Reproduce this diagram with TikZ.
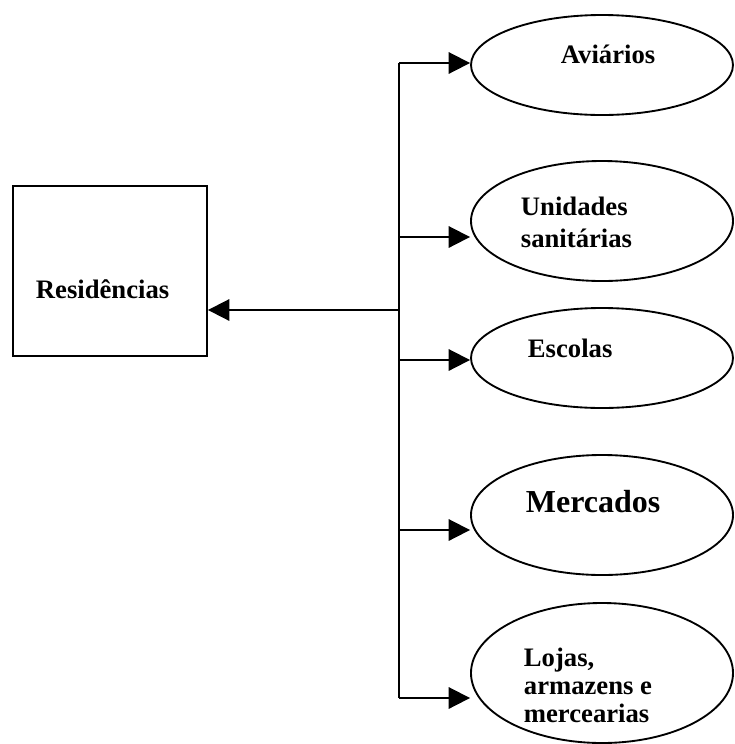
\documentclass[tikz,border=0pt]{standalone}
\usepackage{fontspec}
\setmainfont{Liberation Serif}
\usetikzlibrary{shapes.geometric,arrows.meta}
\begin{document}
\begin{tikzpicture}[x=0.75pt,y=-0.75pt,
  line width=1.4pt,
  oval/.style={draw,ellipse,inner sep=0pt,minimum width=196.5pt},
  boxn/.style={draw,rectangle,inner sep=0pt,minimum width=145.5pt,minimum height=127.5pt},
  lbl/.style={inner sep=0pt,font=\bfseries\fontsize{20}{24}\selectfont,align=left},
  arr/.style={-{Triangle[length=16pt,width=16pt]}}]
\useasboundingbox (0,0) rectangle (735,744);
% box
\node[boxn] (res) at (110,271) {};
\node[lbl,anchor=base west] (tres) at (35,298) {Residências};
% ellipses
\node[oval,minimum height=75pt] (av) at (602,65) {};
\node[oval,minimum height=90pt] (un) at (602,221) {};
\node[oval,minimum height=75pt] (es) at (602,358) {};
\node[oval,minimum height=90pt] (me) at (602,515) {};
\node[oval,minimum height=105pt] (lo) at (602,673) {};
% labels
\node[lbl,anchor=base west] (tav) at (560,63) {Aviários};
\node[lbl,anchor=west] (tun) at (520,222) {Unidades\\sanitárias};
\node[lbl,anchor=base west] (tes) at (527,357) {Escolas};
\node[lbl,anchor=base west,font=\bfseries\fontsize{24}{26}\selectfont] (tme) at (525,512) {Mercados};
\node[lbl,anchor=west,font=\bfseries\fontsize{20}{21}\selectfont] (tlo) at (523,685) {Lojas,\\armazens e\\mercearias};
% bus
\coordinate (b1) at (399,63);
\coordinate (b2) at (399,237);
\coordinate (b3) at (399,360);
\coordinate (b4) at (399,530);
\coordinate (b5) at (399,698);
\coordinate (bm) at (399,310);
\draw (b1) -- (b5);
\draw[arr] (b1) -- (av.west |- b1);
\draw[arr] (b2) -- (un.west |- b2);
\draw[arr] (b3) -- (es.west |- b3);
\draw[arr] (b4) -- (me.west |- b4);
\draw[arr] (b5) -- (lo.west |- b5);
\draw[arr] (bm) -- (res.east |- bm);
\end{tikzpicture}
\end{document}
